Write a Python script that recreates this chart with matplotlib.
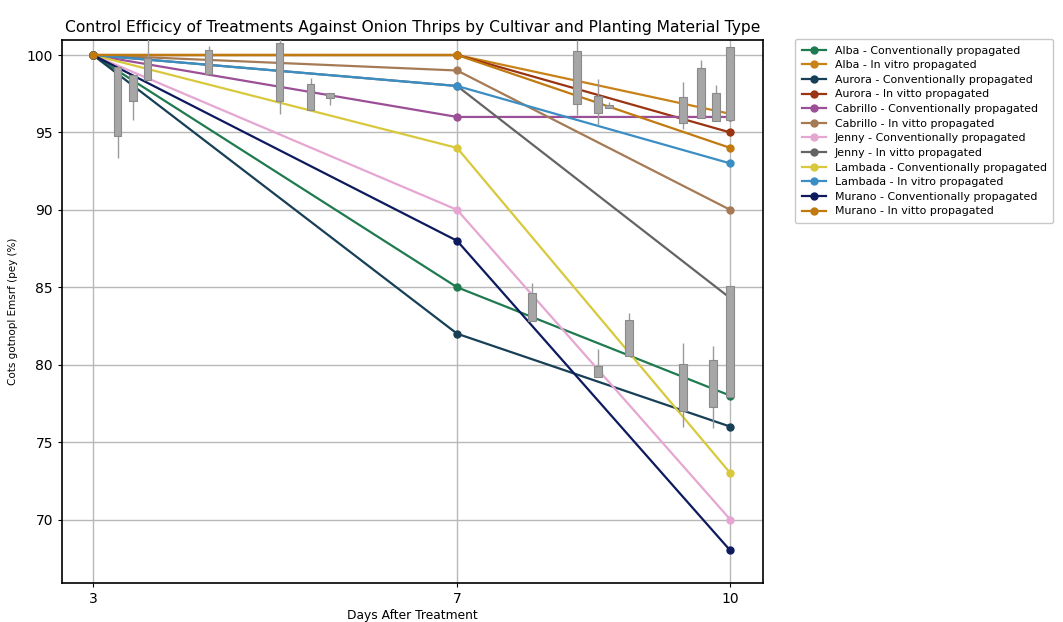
import matplotlib
matplotlib.use("Agg")
import matplotlib.pyplot as plt

plt.rcParams['font.family'] = ['DejaVu Sans']

days = [3, 7, 10]

series_names = [
    "Alba - Conventionally propagated",
    "Alba - In vitro propagated",
    "Aurora - Conventionally propagated",
    "Aurora - In vitto propagated",
    "Cabrillo - Conventionally propagated",
    "Cabrillo - In vitto propagated",
    "Jenny - Conventionally propagated",
    "Jenny - In vitto propagated",
    "Lambada - Conventionally propagated",
    "Lambada - In vitro propagated",
    "Murano - Conventionally propagated",
    "Murano - In vitto propagated",
]

series_values = [
    [100, 85, 78],
    [100, 100, 96.2],
    [100, 82, 76],
    [100, 100, 95],
    [100, 96, 96],
    [100, 99, 90],
    [100, 90, 70],
    [100, 98, 84.3],
    [100, 94, 73],
    [100, 98, 93],
    [100, 88, 68],
    [100, 100, 94],
]

series_colors = [
    "#1f7a4f", "#c98218", "#173f55", "#9a3412",
    "#9b4f96", "#a57a55", "#e6a6d2", "#646464",
    "#d8c93c", "#3b8ec4", "#0d1a5e", "#c07a10",
]

# spread of individual replicate observations
box_day = [3.27, 3.44, 3.60, 4.27, 5.05, 5.39, 5.60, 8.32, 8.55, 8.67,
           9.48, 9.68, 9.84, 10.0, 7.82, 8.55, 8.89, 9.48, 9.81, 10.0]
box_q1 = [94.8, 97.0, 98.4, 98.8, 97.0, 96.45, 97.2, 96.84, 96.28, 96.6,
          95.63, 95.92, 95.76, 95.8, 82.8, 79.18, 80.54, 76.99, 77.27, 77.9]
box_q3 = [99.25, 98.7, 99.8, 100.3, 100.8, 98.1, 97.57, 100.28, 97.35, 96.75,
          97.3, 99.14, 97.53, 100.54, 84.66, 79.94, 82.86, 80.05, 80.32, 85.05]
whisk_lo = [93.35, 95.8, 98.4, 98.8, 96.2, 96.45, 96.8, 96.1, 95.48, 96.6,
            95.2, 95.92, 95.76, 95.8, 82.8, 79.18, 80.54, 76.0, 75.9, 77.9]
whisk_hi = [99.25, 98.7, 101.3, 100.6, 101.2, 98.5, 97.57, 100.97, 98.43, 96.95,
            98.28, 99.68, 98.06, 100.54, 85.27, 81.0, 83.37, 81.4, 81.18, 85.05]

fig = plt.figure(figsize=(10.63, 6.22), dpi=100)
ax = fig.add_axes([0.0583, 0.0627, 0.6595, 0.873])

for name, vals, col in zip(series_names, series_values, series_colors):
    ax.plot(days, vals, color=col, lw=1.6, marker='o', markersize=5,
            label=name, zorder=2)

box_w = 0.085
ax.vlines(box_day, whisk_lo, whisk_hi, color="#9a9a9a", lw=1.0, zorder=3)
ax.bar(box_day, [h - l for l, h in zip(box_q1, box_q3)], bottom=box_q1,
       width=box_w, color="#a6a6a6", edgecolor="#8a8a8a", linewidth=0.8,
       zorder=3)

ax.set_xlim(2.66, 10.36)
ax.set_ylim(65.9, 100.97)
ax.set_xticks(days)
ax.set_xticklabels([str(d) for d in days])
ax.set_yticks([70, 75, 80, 85, 90, 95, 100])
ax.grid(True, color="#b8b8b8", lw=1.0)
ax.set_axisbelow(True)
ax.tick_params(labelsize=10, length=3)
for s in ax.spines.values():
    s.set_color("black")
    s.set_linewidth(1.2)

ax.set_title("Control Efficicy of Treatments Against Onion Thrips by Cultivar and Planting Material Type",
             fontsize=11.2, pad=6, fontweight='medium')
ax.set_xlabel("Days After Treatment", fontsize=8.8, labelpad=2, fontweight='medium')
ax.set_ylabel("Cots gotnopl Emsrf (pey (%)", fontsize=7.5, labelpad=6)

fig.legend(loc='upper left', bbox_to_anchor=(0.743, 0.946), fontsize=7.9,
           frameon=True, edgecolor="#bbbbbb", handlelength=2.2,
           labelspacing=0.42, borderpad=0.6)

fig.savefig("out.png", dpi=100)
